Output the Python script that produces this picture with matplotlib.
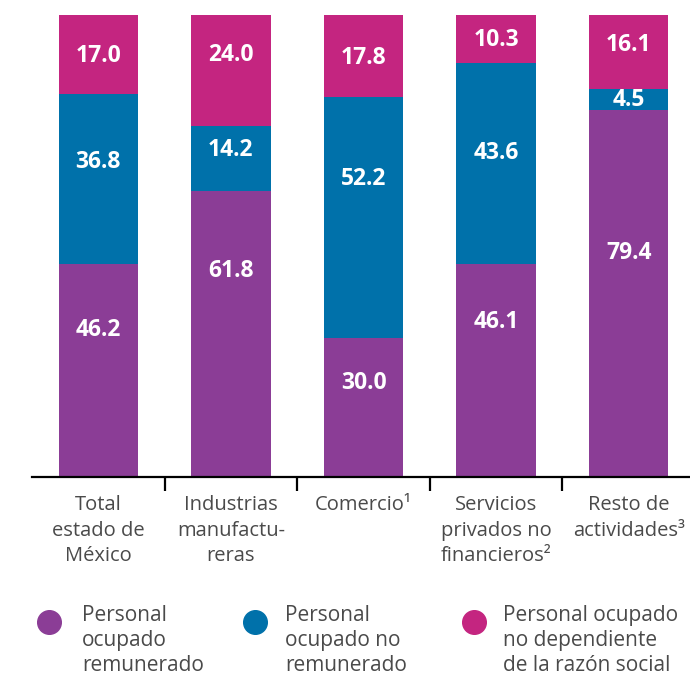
import numpy as np
import matplotlib.pyplot as plt
import matplotlib.lines as mlines

categories = ['Total\nestado de\nMéxico', 'Industrias\nmanufactu-\nreras', 'Comercio¹',
              'Servicios\nprivados no\nfinancieros²', 'Resto de\nactividades³']
remunerado = [46.2, 61.8, 30.0, 46.1, 79.4]
no_remunerado = [36.8, 14.2, 52.2, 43.6, 4.5]
no_dependiente = [17.0, 24.0, 17.8, 10.3, 16.1]
series_names = ['Personal\nocupado\nremunerado', 'Personal\nocupado no\nremunerado',
                'Personal ocupado\nno dependiente\nde la razón social']

# where the printed numbers sit inside each segment (0 = bottom, 1 = top of segment)
label_pos = [[0.69, 0.60, 0.48],
             [0.72, 0.63, 0.64],
             [0.68, 0.66, 0.48],
             [0.73, 0.55, 0.48],
             [0.61, 0.49, 0.60]]

colors = ['#8B3D96', '#0071AA', '#C42580']
text_gray = '#4a4a4a'

plt.rcParams['font.family'] = ['Open Sans', 'DejaVu Sans']

fig = plt.figure(figsize=(6.9, 6.79), dpi=100)
ax = fig.add_axes([32/690, 1 - 477/679, 663/690, 462/679])

x = np.arange(len(categories))
stacks = [remunerado, no_remunerado, no_dependiente]
bottom = np.zeros(len(categories))
for i, vals in enumerate(stacks):
    vals = np.array(vals)
    ax.bar(x, vals, width=0.6, bottom=bottom, color=colors[i], linewidth=0)
    for j in range(len(x)):
        ax.text(x[j], bottom[j] + vals[j]*label_pos[j][i], '%.1f' % vals[j],
                ha='center', va='center', color='white', fontsize=16.5, fontweight='bold')
    bottom += vals

ax.set_xlim(-0.5, 4.5)
ax.set_ylim(0, 100)
for s in ['top', 'right', 'left']:
    ax.spines[s].set_visible(False)
ax.spines['bottom'].set_linewidth(1.6)
ax.set_yticks([])
ax.set_xticks(x)
ax.set_xticklabels(categories, fontsize=14.5, color=text_gray, linespacing=1.38)
ax.tick_params(axis='x', which='major', length=0, pad=13)
ax.set_xticks([0.5, 1.5, 2.5, 3.5], minor=True)
ax.tick_params(axis='x', which='minor', length=10, width=1.6, color='black')

# legend
dot_x = [49, 255, 474]
txt_x = [82, 285, 503]
for i in range(3):
    fig.add_artist(mlines.Line2D([dot_x[i]/690], [1 - 622/679], marker='o', markersize=17,
                                 color=colors[i], linestyle='none', transform=fig.transFigure))
    fig.text(txt_x[i]/690, 1 - 605/679, series_names[i], ha='left', va='top',
             fontsize=15, color=text_gray, linespacing=1.24)

fig.savefig('out.png', dpi=100)
